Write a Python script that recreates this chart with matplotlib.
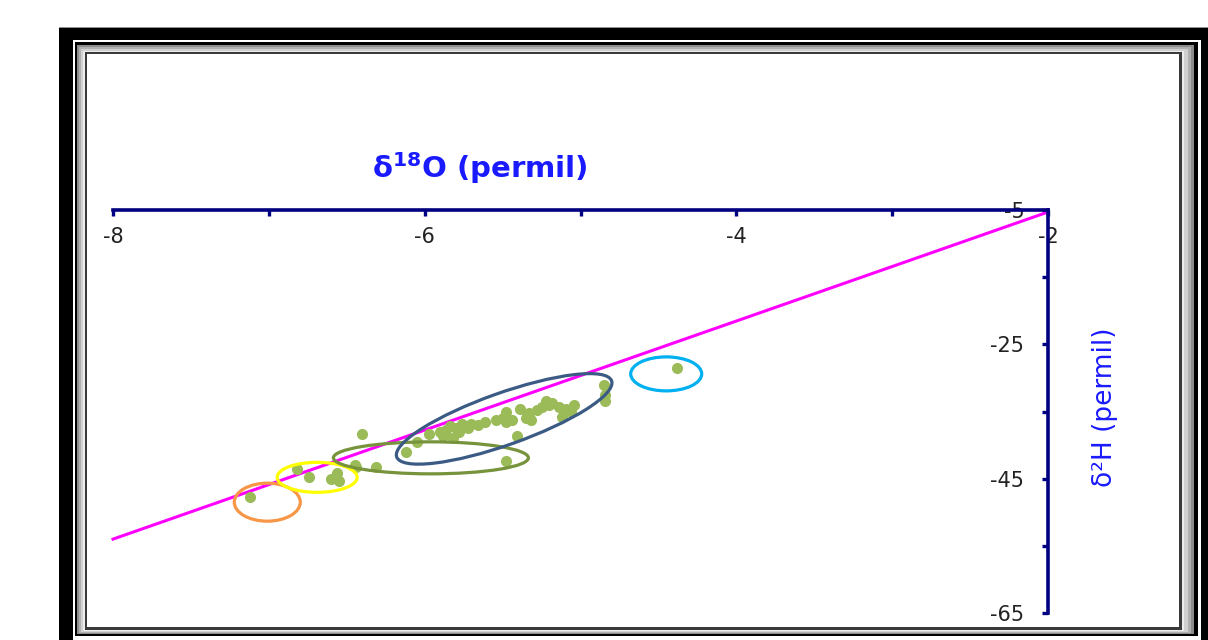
import matplotlib
matplotlib.use('Agg')
import matplotlib.pyplot as plt
from matplotlib.patches import Rectangle
from matplotlib.collections import EllipseCollection

plt.rcParams['font.family'] = ['DejaVu Sans']
plt.rcParams['mathtext.fontset'] = 'dejavusans'
plt.rcParams['axes.unicode_minus'] = False

# water samples (permil)
d18o = [-7.12, -6.82, -6.74, -6.60, -6.56, -6.55, -6.45, -6.44, -6.31, -6.40,
        -6.12, -6.05, -5.97, -5.86, -5.84, -5.80, -5.76, -5.70, -5.82, -5.78,
        -5.88, -5.61, -5.54, -5.48, -5.48, -5.44, -5.41, -5.39, -5.33, -5.32,
        -5.25, -5.22, -5.18, -5.14, -5.09, -5.12, -5.04, -5.48, -4.85, -4.84,
        -4.84, -4.38, -5.72, -5.66, -5.90, -5.28, -5.20, -5.06, -5.50, -5.35]
d2h = [-47.8, -43.6, -44.7, -45.1, -44.1, -45.4, -42.9, -43.2, -43.2, -38.4,
       -41.0, -39.6, -38.4, -37.7, -37.2, -37.4, -36.9, -36.9, -38.9, -38.0,
       -38.7, -36.5, -36.2, -35.0, -36.6, -36.2, -38.7, -34.7, -35.2, -36.2,
       -34.3, -33.5, -33.7, -34.3, -34.7, -35.8, -34.0, -42.4, -31.0, -33.5,
       -32.6, -28.5, -37.5, -37.0, -38.0, -34.8, -34.0, -35.0, -36.0, -36.0]

# meteoric water line end points
line_x = [-8.0, -2.0]
line_y = [-54.0, -5.3]

# centres of the circled groups
grp_x = [-7.01, -6.69, -5.96, -5.49, -4.45]
grp_y = [-48.5, -44.8, -41.9, -36.1, -29.4]
grp_colors = ['#F79646', '#FFFF00', '#77933C', '#3B5B85', '#00B0F0']

xticks = [-8, -6, -4, -2]
xminor = [-7, -5, -3]
yticks = [-65, -45, -25, -5]
yminor = [-55, -35, -15]

W, H = 1208, 640
fig = plt.figure(figsize=(W / 100, H / 100), dpi=100)


def box(x0, y0, x1, y1, color):
    fig.patches.append(Rectangle((x0 / W, 1 - y1 / H), (x1 - x0) / W, (y1 - y0) / H,
                                 transform=fig.transFigure, facecolor=color,
                                 edgecolor='none', zorder=-5))


# picture frame
box(59, 27, 1220, 660, '#909090')
box(59, 28, 1220, 660, 'black')
box(73, 40, 1201, 660, 'white')
box(75, 42, 1198, 636, 'black')
box(77, 45, 1194, 634, '#8c8c8c')
box(79, 47, 1191, 633, '#b0b0b0')
box(81, 49, 1188, 632, '#d0d0d0')
box(83, 51, 1184, 631, '#ececec')
box(85, 52, 1182, 630, '#3a3a3a')
box(87, 54, 1179, 627, 'white')

ax = fig.add_axes([113 / W, 1 - 613 / H, (1048 - 113) / W, (613 - 210) / H])
ax.patch.set_alpha(0)
ax.set_xlim(-8, -2)
ax.set_ylim(-65, -5)

navy = '#000080'
for s in ['top', 'right']:
    ax.spines[s].set_visible(False)
ax.spines['bottom'].set_position(('data', -5))
ax.spines['left'].set_position(('data', -2))
for s in ['bottom', 'left']:
    ax.spines[s].set_color(navy)
    ax.spines[s].set_linewidth(2.6)
    ax.spines[s].set_capstyle('projecting')
    ax.spines[s].set_zorder(5)

ax.set_xticks(xticks)
ax.set_xticks(xminor, minor=True)
ax.set_yticks(yticks)
ax.set_yticks(yminor, minor=True)
ax.tick_params(which='both', direction='out', length=4, width=2.4, color=navy,
               labelsize=15, labelcolor='#222222')
ax.tick_params(axis='x', pad=8)
ax.tick_params(axis='y', pad=13)

ax.plot(line_x, line_y, color='#FF00FF', lw=2.2, zorder=2, clip_on=False)
ax.plot(d18o, d2h, 'o', color='#9BBB59', ms=8, mec='none', zorder=3)

ec = EllipseCollection([66, 80, 195, 228, 71], [38, 30, 32, 52, 34],
                       [0, 0, 0, 19.5, 0], units='dots',
                       offsets=list(zip(grp_x, grp_y)),
                       offset_transform=ax.transData,
                       facecolors='none', edgecolors=grp_colors,
                       linewidths=2.3, zorder=4)
ax.add_collection(ec)

ax.text(0.3925, 1.104, r'δ$^{\mathbf{18}}$O (permil)', transform=ax.transAxes,
        ha='center', va='center', fontsize=21, fontweight='bold', color='#1a1aff')
ax.text(1.061, 0.51, 'δ²H (permil)', transform=ax.transAxes, rotation=90,
        ha='center', va='center', fontsize=19, color='#1a1aff')

fig.savefig('out.png', dpi=100)
